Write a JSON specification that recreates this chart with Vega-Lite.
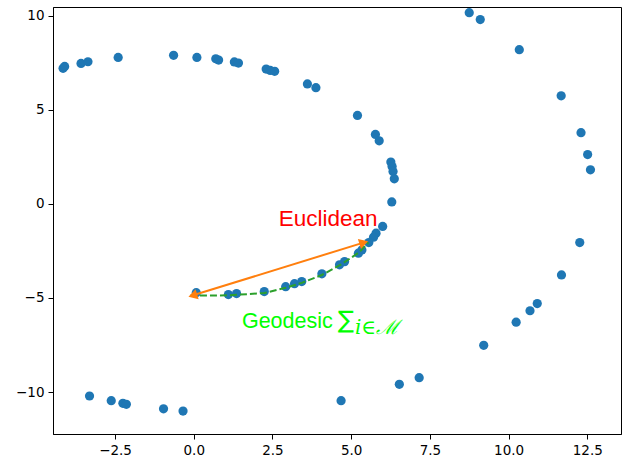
{
  "$schema": "https://vega.github.io/schema/vega-lite/v6.json",
  "width": 568,
  "height": 427,
  "autosize": {"type": "none"},
  "padding": {"left": 53, "top": 7, "right": 1, "bottom": 28},
  "background": "white",
  "config": {
    "view": {"stroke": "black", "strokeWidth": 1},
    "axis": {
      "grid": false,
      "domainColor": "black",
      "tickColor": "black",
      "labelColor": "black",
      "labelFont": "DejaVu Sans",
      "labelFontSize": 13.5,
      "tickSize": 5,
      "labelPadding": 4,
      "title": null
    }
  },
  "datasets": {
    "pts": [
      {"x": -4.15, "y": 7.2}, {"x": -4.1, "y": 7.3}, {"x": -3.58, "y": 7.46}, {"x": -3.36, "y": 7.55},
      {"x": -2.4, "y": 7.78}, {"x": -0.64, "y": 7.89}, {"x": 0.1, "y": 7.78}, {"x": 0.7, "y": 7.71},
      {"x": 0.79, "y": 7.64}, {"x": 1.29, "y": 7.54}, {"x": 1.42, "y": 7.48}, {"x": 2.3, "y": 7.16},
      {"x": 2.43, "y": 7.09}, {"x": 2.57, "y": 7.04}, {"x": 3.61, "y": 6.37}, {"x": 3.88, "y": 6.17},
      {"x": 5.2, "y": 4.7}, {"x": 5.77, "y": 3.69}, {"x": 5.89, "y": 3.35}, {"x": 6.26, "y": 2.22},
      {"x": 6.3, "y": 1.98}, {"x": 6.33, "y": 1.72}, {"x": 6.37, "y": 1.33}, {"x": 6.29, "y": 0.1},
      {"x": 6.0, "y": -1.2}, {"x": 5.79, "y": -1.56}, {"x": 5.71, "y": -1.77}, {"x": 5.56, "y": -2.06},
      {"x": 5.34, "y": -2.45}, {"x": 5.23, "y": -2.62}, {"x": 4.79, "y": -3.07}, {"x": 4.63, "y": -3.24},
      {"x": 4.07, "y": -3.72}, {"x": 3.43, "y": -4.13}, {"x": 3.2, "y": -4.24}, {"x": 2.92, "y": -4.4},
      {"x": 2.24, "y": -4.66}, {"x": 1.36, "y": -4.77}, {"x": 1.1, "y": -4.82}, {"x": 0.08, "y": -4.72},
      {"x": -3.31, "y": -10.21}, {"x": -2.62, "y": -10.46}, {"x": -2.25, "y": -10.6}, {"x": -2.14, "y": -10.65},
      {"x": -0.96, "y": -10.89}, {"x": -0.34, "y": -11.01}, {"x": 4.68, "y": -10.46}, {"x": 6.53, "y": -9.59},
      {"x": 7.16, "y": -9.24}, {"x": 9.21, "y": -7.52}, {"x": 10.24, "y": -6.29}, {"x": 10.68, "y": -5.68},
      {"x": 10.91, "y": -5.3}, {"x": 11.68, "y": -3.78}, {"x": 12.26, "y": -2.06}, {"x": 12.6, "y": 1.81},
      {"x": 12.51, "y": 2.62}, {"x": 12.3, "y": 3.78}, {"x": 11.67, "y": 5.74}, {"x": 10.34, "y": 8.19},
      {"x": 9.1, "y": 9.79}, {"x": 8.75, "y": 10.16}
    ],
    "geo": [
      {"o": 0, "x": -0.12, "y": -4.88}, {"o": 1, "x": 1.1, "y": -4.86}, {"o": 2, "x": 2.24, "y": -4.74},
      {"o": 3, "x": 2.92, "y": -4.46}, {"o": 4, "x": 3.43, "y": -4.2}, {"o": 5, "x": 4.07, "y": -3.78},
      {"o": 6, "x": 4.7, "y": -3.2}, {"o": 7, "x": 5.25, "y": -2.58}, {"o": 8, "x": 5.55, "y": -2.05}
    ],
    "euc": [
      {"o": 0, "x": -0.1, "y": -4.9}, {"o": 1, "x": 5.47, "y": -2.02}
    ],
    "heads": [
      {"x": -0.03, "y": -4.87, "shape": "triangle-left"},
      {"x": 5.4, "y": -2.06, "shape": "triangle-right"}
    ],
    "lbl_euc": [{"x": 4.27, "y": -1.17, "t": "Euclidean"}],
    "lbl_geo": [{"x": 1.53, "y": -6.6, "t": "Geodesic"}],
    "lbl_sum": [{"x": 4.58, "y": -6.62, "t": "∑"}],
    "lbl_sub": [{"x": 5.12, "y": -6.92, "t": "i∈ℳ"}]
  },
  "encoding": {
    "x": {"field": "x", "type": "quantitative", "scale": {"domain": [-4.47, 13.57], "nice": false, "zero": false},
      "axis": {"values": [-2.5, 0, 2.5, 5, 7.5, 10, 12.5], "format": ".1f"}},
    "y": {"field": "y", "type": "quantitative", "scale": {"domain": [-12.23, 10.46], "nice": false, "zero": false},
      "axis": {"values": [-10, -5, 0, 5, 10], "format": "d"}}
  },
  "layer": [
    {"data": {"name": "pts"}, "mark": {"type": "circle", "size": 85, "color": "#1f77b4", "opacity": 1}},
    {"data": {"name": "geo"}, "mark": {"type": "line", "color": "#2ca02c", "strokeWidth": 2, "strokeDash": [7, 3]},
      "encoding": {"order": {"field": "o"}}},
    {"data": {"name": "euc"}, "mark": {"type": "line", "color": "#ff7f0e", "strokeWidth": 2},
      "encoding": {"order": {"field": "o"}}},
    {"data": {"name": "heads"}, "mark": {"type": "point", "filled": true, "color": "#ff7f0e", "size": 110, "angle": -17, "opacity": 1},
      "encoding": {"shape": {"field": "shape", "type": "nominal", "scale": null}}},
    {"data": {"name": "lbl_euc"}, "mark": {"type": "text", "font": "Liberation Sans", "fontSize": 22.5, "color": "#ff0000", "align": "center", "baseline": "alphabetic"},
      "encoding": {"text": {"field": "t"}}},
    {"data": {"name": "lbl_geo"}, "mark": {"type": "text", "font": "Liberation Sans", "fontSize": 21.5, "color": "#00ff00", "align": "left", "baseline": "alphabetic"},
      "encoding": {"text": {"field": "t"}}},
    {"data": {"name": "lbl_sum"}, "mark": {"type": "text", "font": "DejaVu Sans", "fontSize": 24, "color": "#00ff00", "align": "left", "baseline": "alphabetic"},
      "encoding": {"text": {"field": "t"}}},
    {"data": {"name": "lbl_sub"}, "mark": {"type": "text", "font": "DejaVu Serif", "fontStyle": "italic", "fontSize": 20, "color": "#00ff00", "align": "left", "baseline": "alphabetic"},
      "encoding": {"text": {"field": "t"}}}
  ]
}
